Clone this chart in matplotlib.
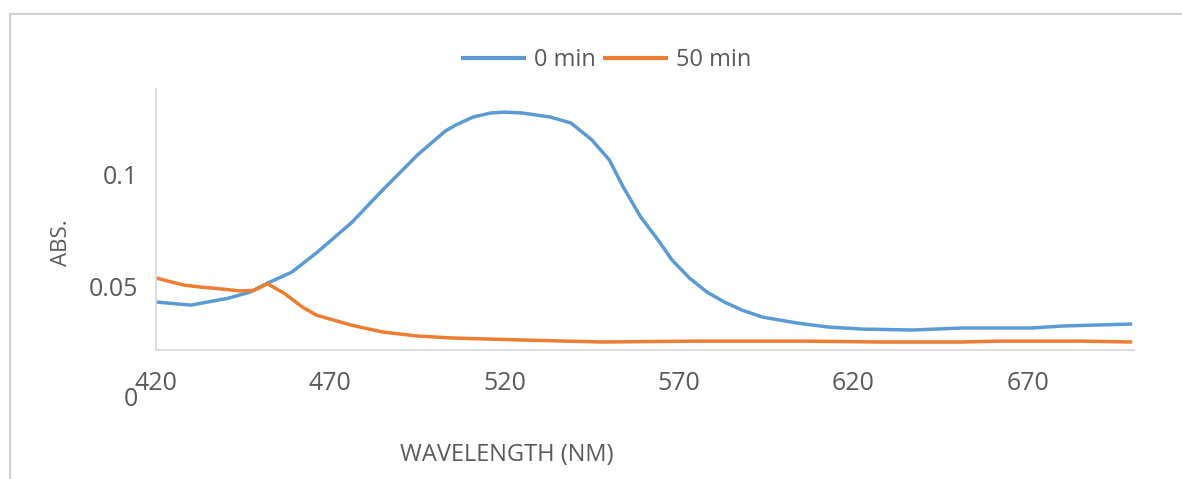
import matplotlib
matplotlib.use('Agg')
import matplotlib.pyplot as plt
from matplotlib.lines import Line2D

plt.rcParams['font.family'] = ['Open Sans', 'DejaVu Sans']

# dane
wl_0min = [420, 430, 441, 447, 452, 459, 466, 476, 485, 495, 503, 506, 511, 516, 520, 525,
           533, 539, 545, 550, 554, 559, 564, 568, 573, 578, 583, 588, 594, 604, 613,
           623, 637, 651, 671, 680, 700]
abs_0min = [0.0428, 0.0414, 0.0446, 0.0473, 0.0513, 0.0563, 0.0649, 0.0784, 0.0932, 0.1090,
            0.1198, 0.1225, 0.1261, 0.1279, 0.1283, 0.1279, 0.1261, 0.1234, 0.1158, 0.1068,
            0.0946, 0.0811, 0.0707, 0.0617, 0.0536, 0.0473, 0.0428, 0.0392, 0.0360, 0.0333,
            0.0315, 0.0306, 0.0302, 0.0311, 0.0311, 0.0320, 0.0329]

wl_50min = [420, 428, 433, 438, 444, 448, 452, 457, 462, 466, 476, 485, 495, 505, 525, 548,
            576, 605, 628, 651, 662, 685, 700]
abs_50min = [0.0536, 0.0504, 0.0495, 0.0488, 0.0478, 0.0480, 0.0510, 0.0465, 0.0405, 0.0369,
             0.0324, 0.0293, 0.0275, 0.0266, 0.0257, 0.0248, 0.0252, 0.0252, 0.0248, 0.0248,
             0.0252, 0.0252, 0.0248]

x_ticks = [420, 470, 520, 570, 620, 670]
y_ticks = [0.05, 0.1]
y_tick_labels = ['0.05', '0.1']

blue = '#5B9BD5'
orange = '#ED7D31'
gray_txt = '#595959'
gray_line = '#D9D9D9'

fig = plt.figure(figsize=(11.82, 4.79), dpi=100)
ax = fig.add_axes([156 / 1182, 1 - 350 / 479, (1134 - 156) / 1182, (350 - 89) / 479])

ax.plot(wl_0min, abs_0min, color=blue, lw=2.5, label='0 min', solid_capstyle='butt')
ax.plot(wl_50min, abs_50min, color=orange, lw=2.5, label='50 min', solid_capstyle='butt')

ax.set_xlim(420, 700.5)
ax.set_ylim(0.0212, 0.1387)

ax.set_xticks(x_ticks)
ax.set_yticks(y_ticks)
ax.set_yticklabels(y_tick_labels)
ax.tick_params(axis='both', length=0, labelsize=18, labelcolor=gray_txt)
ax.tick_params(axis='x', pad=15)
ax.tick_params(axis='y', pad=13)

# etykieta "0" ponizej osi (jak w Excelu)
ax.annotate('0', xy=(0, 0), xycoords=ax.get_yaxis_transform(), xytext=(-13, -2),
            textcoords='offset points', ha='right', va='center', fontsize=18,
            color=gray_txt, annotation_clip=False)

for s in ['top', 'right']:
    ax.spines[s].set_visible(False)
for s in ['left', 'bottom']:
    ax.spines[s].set_color(gray_line)
    ax.spines[s].set_linewidth(1.3)

ax.set_xlabel('WAVELENGTH (NM)', fontsize=17, color=gray_txt)
ax.xaxis.set_label_coords((507 - 156) / 978, -(455 - 350) / 261)
ax.xaxis.label.set_va('center')
ax.set_ylabel('ABS.', fontsize=16, color=gray_txt)
ax.yaxis.set_label_coords(-(156 - 62) / 978, (350 - 243) / 261)
ax.yaxis.label.set_va('center')

leg = fig.legend(loc='center', bbox_to_anchor=(606 / 1182, 1 - 60 / 479), ncol=2,
                 frameon=False, fontsize=17, handlelength=2.75, handletextpad=0.34,
                 columnspacing=0.3, labelcolor=gray_txt)
for h in leg.legend_handles:
    h.set_linewidth(3)

# ramka wykresu
fig.add_artist(Line2D([10 / 1182, 1], [1 - 14 / 479, 1 - 14 / 479], color='#D0D0D0', lw=1.5))
fig.add_artist(Line2D([10 / 1182, 10 / 1182], [0, 1 - 14 / 479], color='#D0D0D0', lw=1.5))

fig.savefig('out.png', dpi=100)
